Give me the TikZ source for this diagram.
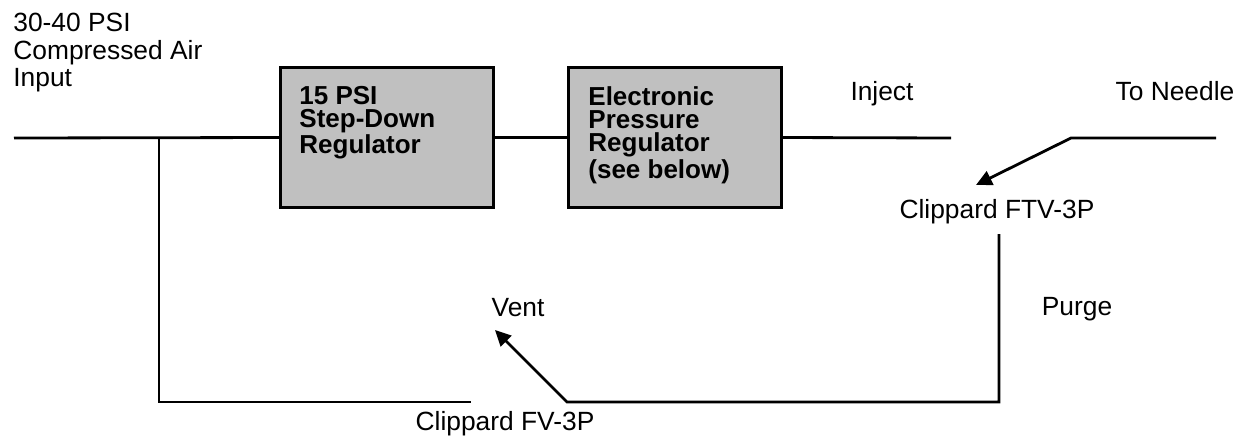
\documentclass[tikz,border=0pt]{standalone}
\usepackage{fontspec}
\setmainfont{Liberation Sans}
\usetikzlibrary{arrows.meta}
\definecolor{regfill}{RGB}{192,192,192}

\begin{document}
\begin{tikzpicture}[x=0.02cm, y=-0.02cm, line width=1.6pt,
	regbox/.style={draw, fill=regfill, minimum width=4.26cm, minimum height=2.8cm, inner sep=0pt},
	regtext/.style={font=\fontsize{14.8}{13.3}\selectfont\bfseries, align=left, inner sep=0pt, anchor=north west},
	lbl/.style={font=\fontsize{15}{15.6}\selectfont, inner sep=0pt, anchor=base},
	valve/.style={-{Triangle[length=9pt, width=8.5pt]}}]
			%%%%% START %%%%%
			\useasboundingbox (0, 0) rectangle (1254, 444);
			
			\node[regbox] (stepdown) at (387, 137.5) {};
			\node[regbox] (epr) at (675, 137.5) {};
			\node[regtext] (stepdownTxt) at (298, 85) {15 PSI\\Step-Down\\Regulator};
			\node[regtext] (eprTxt) at (587, 85) {Electronic\\Pressure\\Regulator\\(see below)};
			
			\node[lbl, anchor=north west, align=left] (airTxt) at (12, 12) {30-40 PSI\\Compressed Air\\Input};
			\node[lbl] (injectTxt) at (882, 100) {Inject};
			\node[lbl] (needleTxt) at (1175, 100) {To Needle};
			\node[lbl] (ftvTxt) at (997, 218) {Clippard FTV-3P};
			\node[lbl] (ventTxt) at (518, 316) {Vent};
			\node[lbl] (purgeTxt) at (1077, 315) {Purge};
			\node[lbl] (fvTxt) at (505, 430) {Clippard FV-3P};
			
			\coordinate (airIn) at (14, 138);
			\coordinate (tee) at (159, 138);
			\coordinate (teeLow) at (159, 402);
			\coordinate (fvEnd) at (471, 402);
			\coordinate (injEnd) at (951, 138);
			\coordinate (ndlA) at (1071, 138);
			\coordinate (ndlB) at (1216, 138);
			\coordinate (ftvTip) at (976, 185);
			\coordinate (purgeTop) at (999, 234);
			\coordinate (purgeLow) at (999, 402);
			\coordinate (ventA) at (567, 402);
			\coordinate (ventTip) at (495, 330);
			
			\draw (airIn) -- (stepdown.west);
			\draw (tee) -- (teeLow) -- (fvEnd);
			\draw (stepdown.east) -- (epr.west);
			\draw (epr.east) -- (injEnd);
			
			\draw[valve] (ndlB) -- (ndlA) -- (ftvTip);
			\draw[valve] (purgeTop) -- (purgeLow) -- (ventA) -- (ventTip);
			%%%%% END %%%%%
\end{tikzpicture}
\end{document}
